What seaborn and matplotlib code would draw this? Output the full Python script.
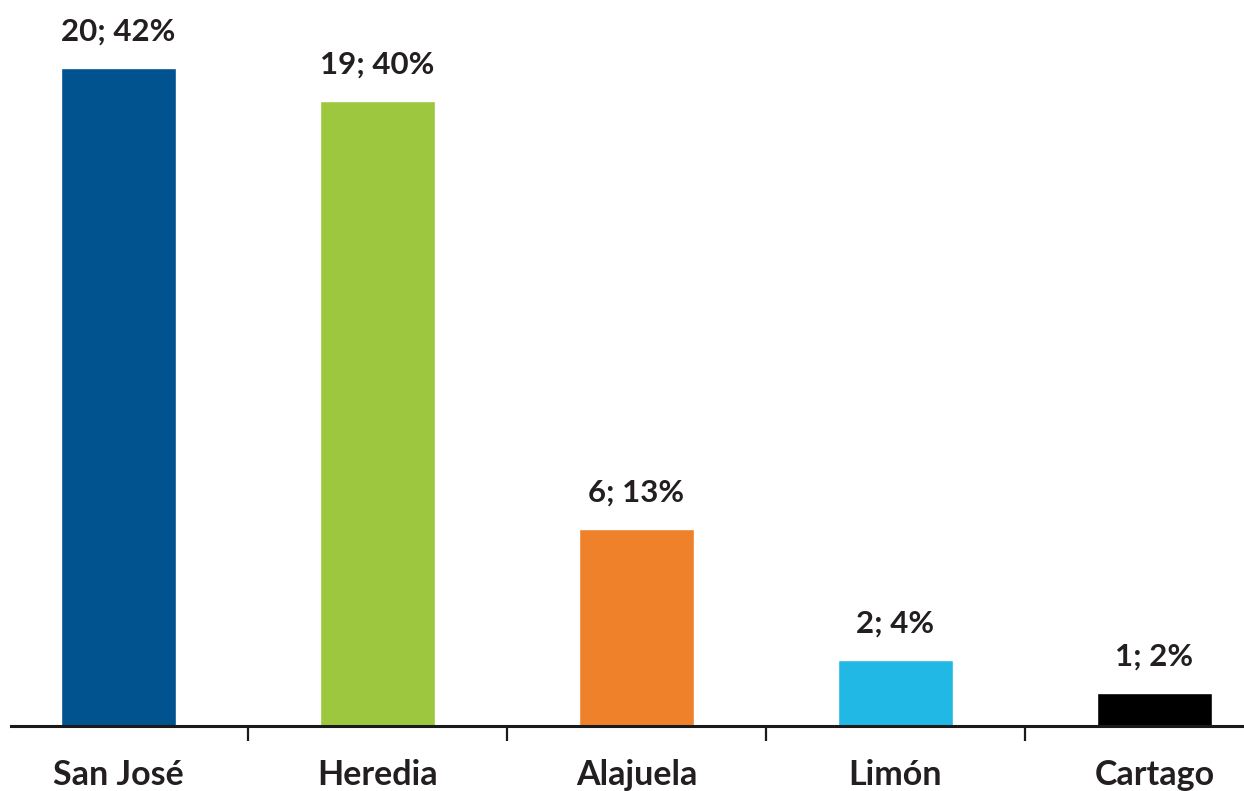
import matplotlib
matplotlib.use("Agg")
import matplotlib.pyplot as plt
from matplotlib.ticker import FixedLocator
import seaborn as sns
import pandas as pd

provincias = ["San José", "Heredia", "Alajuela", "Limón", "Cartago"]
cantidad = [20, 19, 6, 2, 1]
porcentaje = [42, 40, 13, 4, 2]
colores = ["#00538F", "#9DC73F", "#F0812B", "#22B8E5", "#000000"]

df = pd.DataFrame({"provincia": provincias, "cantidad": cantidad})

sns.set_style("white")
plt.rcParams["font.family"] = ["Lato", "DejaVu Sans"]
texto = "#231F20"

W, H = 1244, 791
fig = plt.figure(figsize=(W / 100, H / 100), dpi=100)
# axes placed in pixel terms: baseline at y=726, left edge at x=11
ax = fig.add_axes([11 / W, (H - 726) / H, (W - 11) / W, 726 / H])

sns.barplot(data=df, x="provincia", y="cantidad", hue="provincia",
            palette=colores, width=0.444, legend=False, ax=ax,
            saturation=1)

ax.set_xlim(-0.415, 4.346)
ax.set_ylim(0, 22.07)

for i, (c, p) in enumerate(zip(cantidad, porcentaje)):
    ax.annotate(f"{c}; {p}%", xy=(i, c), xytext=(0, 16),
                textcoords="offset points", ha="center", va="bottom",
                fontsize=22.5, fontweight="bold", color=texto)

for side in ["top", "right", "left"]:
    ax.spines[side].set_visible(False)
ax.spines["bottom"].set_linewidth(2.2)
ax.spines["bottom"].set_color("#1a1a1a")

ax.set_yticks([])
ax.set_xlabel("")
ax.set_ylabel("")
ax.xaxis.set_minor_locator(FixedLocator([0.5, 1.5, 2.5, 3.5]))
ax.tick_params(axis="x", which="major", length=0, pad=24)
ax.tick_params(axis="x", which="minor", direction="out", length=11,
               width=1.6, color="#1a1a1a", bottom=True)
for lbl in ax.get_xticklabels():
    lbl.set_fontsize(24.5)
    lbl.set_fontweight("bold")
    lbl.set_color(texto)

fig.savefig("out.png", dpi=100)
